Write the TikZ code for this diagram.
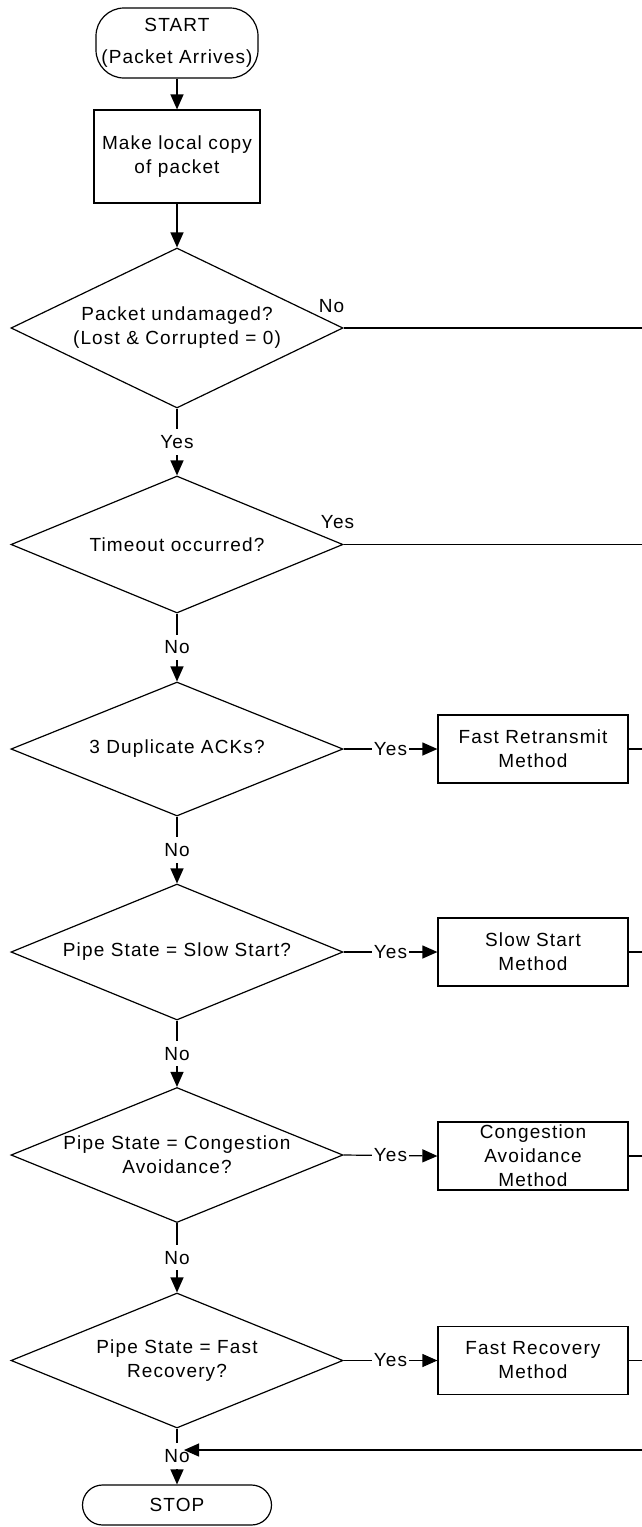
\documentclass[tikz,border=0pt]{standalone}
\usepackage{fontspec}
\setmainfont[LetterSpace=6]{Liberation Sans}
\usetikzlibrary{shapes.geometric,arrows.meta}
\begin{document}
\begin{tikzpicture}[x=1pt,y=-1pt,
  every node/.style={font=\fontsize{19}{24}\selectfont},
  line/.style={line width=1.2pt},
  arr/.style={line, -{Triangle[length=15pt,width=13pt]}},
  terminal/.style={draw, line width=1.2pt, rounded corners=#1, align=center, inner sep=0pt},
  procbox/.style={draw, line width=1.2pt, minimum width=190pt, minimum height=68pt, align=center, inner sep=0pt},
  decision/.style={draw, diamond, line width=1.2pt, minimum width=332pt, inner sep=0pt, aspect=2},
  tag/.style={fill=white, inner xsep=1.5pt, inner ysep=6pt},
  side/.style={anchor=south, yshift=12pt}
]
\useasboundingbox (0,0) rectangle (642,1527);

% main column
\node[terminal=28pt, minimum width=162pt, minimum height=70pt] (start) at (177,43) {START\\[8pt](Packet Arrives)};
\node[draw, line width=1.2pt, minimum width=166pt, minimum height=93pt, align=center, inner sep=0pt] (copy) at (177,156.5) {Make local copy\\of packet};

\node[decision, minimum height=160pt, label={[align=center]center:{Packet undamaged?\\(Lost \& Corrupted = 0)}}] (d1) at (177,328) {};
\node[decision, minimum height=137pt, label={center:Timeout occurred?}] (d2) at (177,544.5) {};
\node[decision, minimum height=134pt, label={center:3 Duplicate ACKs?}] (d3) at (177,749) {};
\node[decision, minimum height=136pt, label={center:Pipe State = Slow Start?}] (d4) at (177,952) {};
\node[decision, minimum height=135pt, label={[align=center]center:{Pipe State = Congestion\\Avoidance?}}] (d5) at (177,1155) {};
\node[decision, minimum height=135pt, label={[align=center]center:{Pipe State = Fast\\Recovery?}}] (d6) at (177,1360.5) {};

\node[terminal=20pt, minimum width=189pt, minimum height=40pt] (stop) at (177,1505) {STOP};

% method boxes
\node[procbox] (b3) at (533,749) {Fast Retransmit\\Method};
\node[procbox] (b4) at (533,952) {Slow Start\\Method};
\node[procbox] (b5) at (533,1156) {Congestion\\Avoidance\\Method};
\node[procbox] (b6) at (533,1360.5) {Fast Recovery\\Method};

% exits towards the right edge
\coordinate (e1) at (642,328);
\coordinate (e2) at (642,544.5);
\coordinate (e3) at (642,749);
\coordinate (e4) at (642,952);
\coordinate (e5) at (642,1156);
\coordinate (e6) at (642,1360.5);
\coordinate (back) at (642,1450);
\coordinate (join) at (177,1450);

% vertical flow
\draw[arr] (start) -- (copy);
\draw[arr] (copy) -- (d1.north);
\draw[arr] (d1.south) -- node[tag]{Yes} (d2.north);
\draw[arr] (d2.south) -- node[tag]{No} (d3.north);
\draw[arr] (d3.south) -- node[tag]{No} (d4.north);
\draw[arr] (d4.south) -- node[tag]{No} (d5.north);
\draw[arr] (d5.south) -- node[tag]{No} (d6.north);
\draw[arr] (d6.south) -- node[tag, pos=0.49]{No} (stop.north);

% branches
\draw[line] (d1.east) -- (e1);
\node[side, xshift=-12pt] (lno) at (d1.east) {No};
\draw[line] (d2.east) -- (e2);
\node[side, xshift=-6pt] (lyes) at (d2.east) {Yes};

\draw[arr] (d3.east) -- node[tag]{Yes} (b3.west);
\draw[arr] (d4.east) -- node[tag]{Yes} (b4.west);
\draw[arr] (d5.east) -- node[tag]{Yes} (b5.west);
\draw[arr] (d6.east) -- node[tag]{Yes} (b6.west);

\draw[line] (b3.east) -- (e3);
\draw[line] (b4.east) -- (e4);
\draw[line] (b5.east) -- (e5);
\draw[line] (b6.east) -- (e6);

% return into the stop path
\draw[arr, shorten >=7pt] (back) -- (join);
\end{tikzpicture}
\end{document}
